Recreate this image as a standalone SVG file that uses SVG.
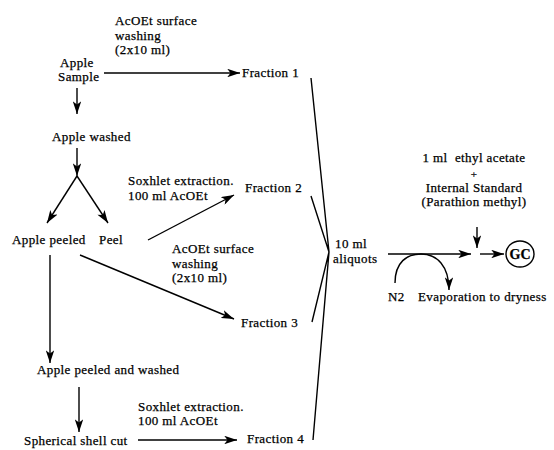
<svg xmlns="http://www.w3.org/2000/svg" width="554" height="450" viewBox="0 0 554 450">
<style>
text{font-family:"Liberation Serif","Times New Roman",serif;font-size:13px;letter-spacing:0.4px;fill:#000;stroke:#000;stroke-width:0.25}
.c{text-anchor:middle}
.ln{stroke:#000;stroke-width:1.4;fill:none}
.ar{stroke:#000;stroke-width:1.4;fill:none;marker-end:url(#ah)}
</style>
<defs>
<marker id="ah" viewBox="0 0 12 8" refX="12" refY="4" markerWidth="13" markerHeight="8.5" orient="auto" markerUnits="userSpaceOnUse"><path d="M0,0 L12,4 L0,8 L3,4 z" fill="#000"/></marker>
</defs>
<rect width="554" height="450" fill="#fff"/>
<g id="connectors">
<line class="ar" x1="104" y1="73" x2="240" y2="73"/>
<line class="ar" x1="77" y1="88" x2="77" y2="114"/>
<line class="ar" x1="77" y1="148" x2="77" y2="176"/>
<line class="ar" x1="77" y1="176" x2="47" y2="223"/>
<line class="ar" x1="77" y1="176" x2="108" y2="223"/>
<line class="ar" x1="148" y1="240" x2="234" y2="195"/>
<line class="ar" x1="80" y1="255" x2="234" y2="319"/>
<line class="ar" x1="50" y1="255" x2="50" y2="363"/>
<line class="ar" x1="79" y1="387" x2="79" y2="432"/>
<line class="ar" x1="138" y1="440" x2="237" y2="440"/>
<polyline class="ln" points="311,78 329,252 311,196"/>
<polyline class="ln" points="312,322 329,252 313,440"/>
<line class="ar" x1="388" y1="254" x2="471" y2="254"/>
<line class="ar" x1="477" y1="227" x2="477" y2="248"/>
<line class="ar" x1="480" y1="254" x2="504" y2="254"/>
<path class="ar" d="M395,283 C395,262 407,254 421,254 C437,254 449,266 449,290"/>
</g>
<g id="n-sample"><text x="60" y="66.5">Apple</text><text x="58" y="81">Sample</text></g>
<g id="l-wash1"><text x="115" y="25">AcOEt surface</text><text x="115" y="39.5">washing</text><text x="115" y="54">(2x10 ml)</text></g>
<g id="n-fr1"><text x="242" y="77">Fraction 1</text></g>
<g id="n-washed"><text x="52" y="141">Apple washed</text></g>
<g id="n-peeled"><text x="12" y="244">Apple peeled</text></g>
<g id="n-peel"><text x="99" y="244">Peel</text></g>
<g id="l-sox1"><text x="128" y="185">Soxhlet extraction.</text><text x="128" y="199.5">100 ml AcOEt</text></g>
<g id="n-fr2"><text x="245" y="192">Fraction 2</text></g>
<g id="l-wash2"><text x="172" y="253">AcOEt surface</text><text x="172" y="267.5">washing</text><text x="172" y="282">(2x10 ml)</text></g>
<g id="n-fr3"><text x="241" y="327">Fraction 3</text></g>
<g id="n-pw"><text x="37" y="374">Apple peeled and washed</text></g>
<g id="l-sox2"><text x="138" y="410.5">Soxhlet extraction.</text><text x="138" y="425">100 ml AcOEt</text></g>
<g id="n-shell"><text x="24" y="445">Spherical shell cut</text></g>
<g id="n-fr4"><text x="247" y="443">Fraction 4</text></g>
<g id="n-aliquots"><text x="335" y="248">10 ml</text><text x="333" y="263">aliquots</text></g>
<g id="n-reagent"><text class="c" x="474" y="162" style="white-space:pre">1 ml  ethyl acetate</text><text class="c" x="474" y="177.5" style="font-size:11px">+</text><text class="c" x="474" y="191.5">Internal Standard</text><text class="c" x="474" y="206">(Parathion methyl)</text></g>
<g id="n-n2"><text x="388" y="301">N2</text></g>
<g id="n-evap"><text x="418" y="301">Evaporation to dryness</text></g>
<g id="n-gc"><ellipse cx="520" cy="254" rx="14" ry="13" fill="none" stroke="#000" stroke-width="1.4"/><text class="c" x="520" y="259" style="font-weight:bold;font-size:14px;letter-spacing:0">GC</text></g>
</svg>
